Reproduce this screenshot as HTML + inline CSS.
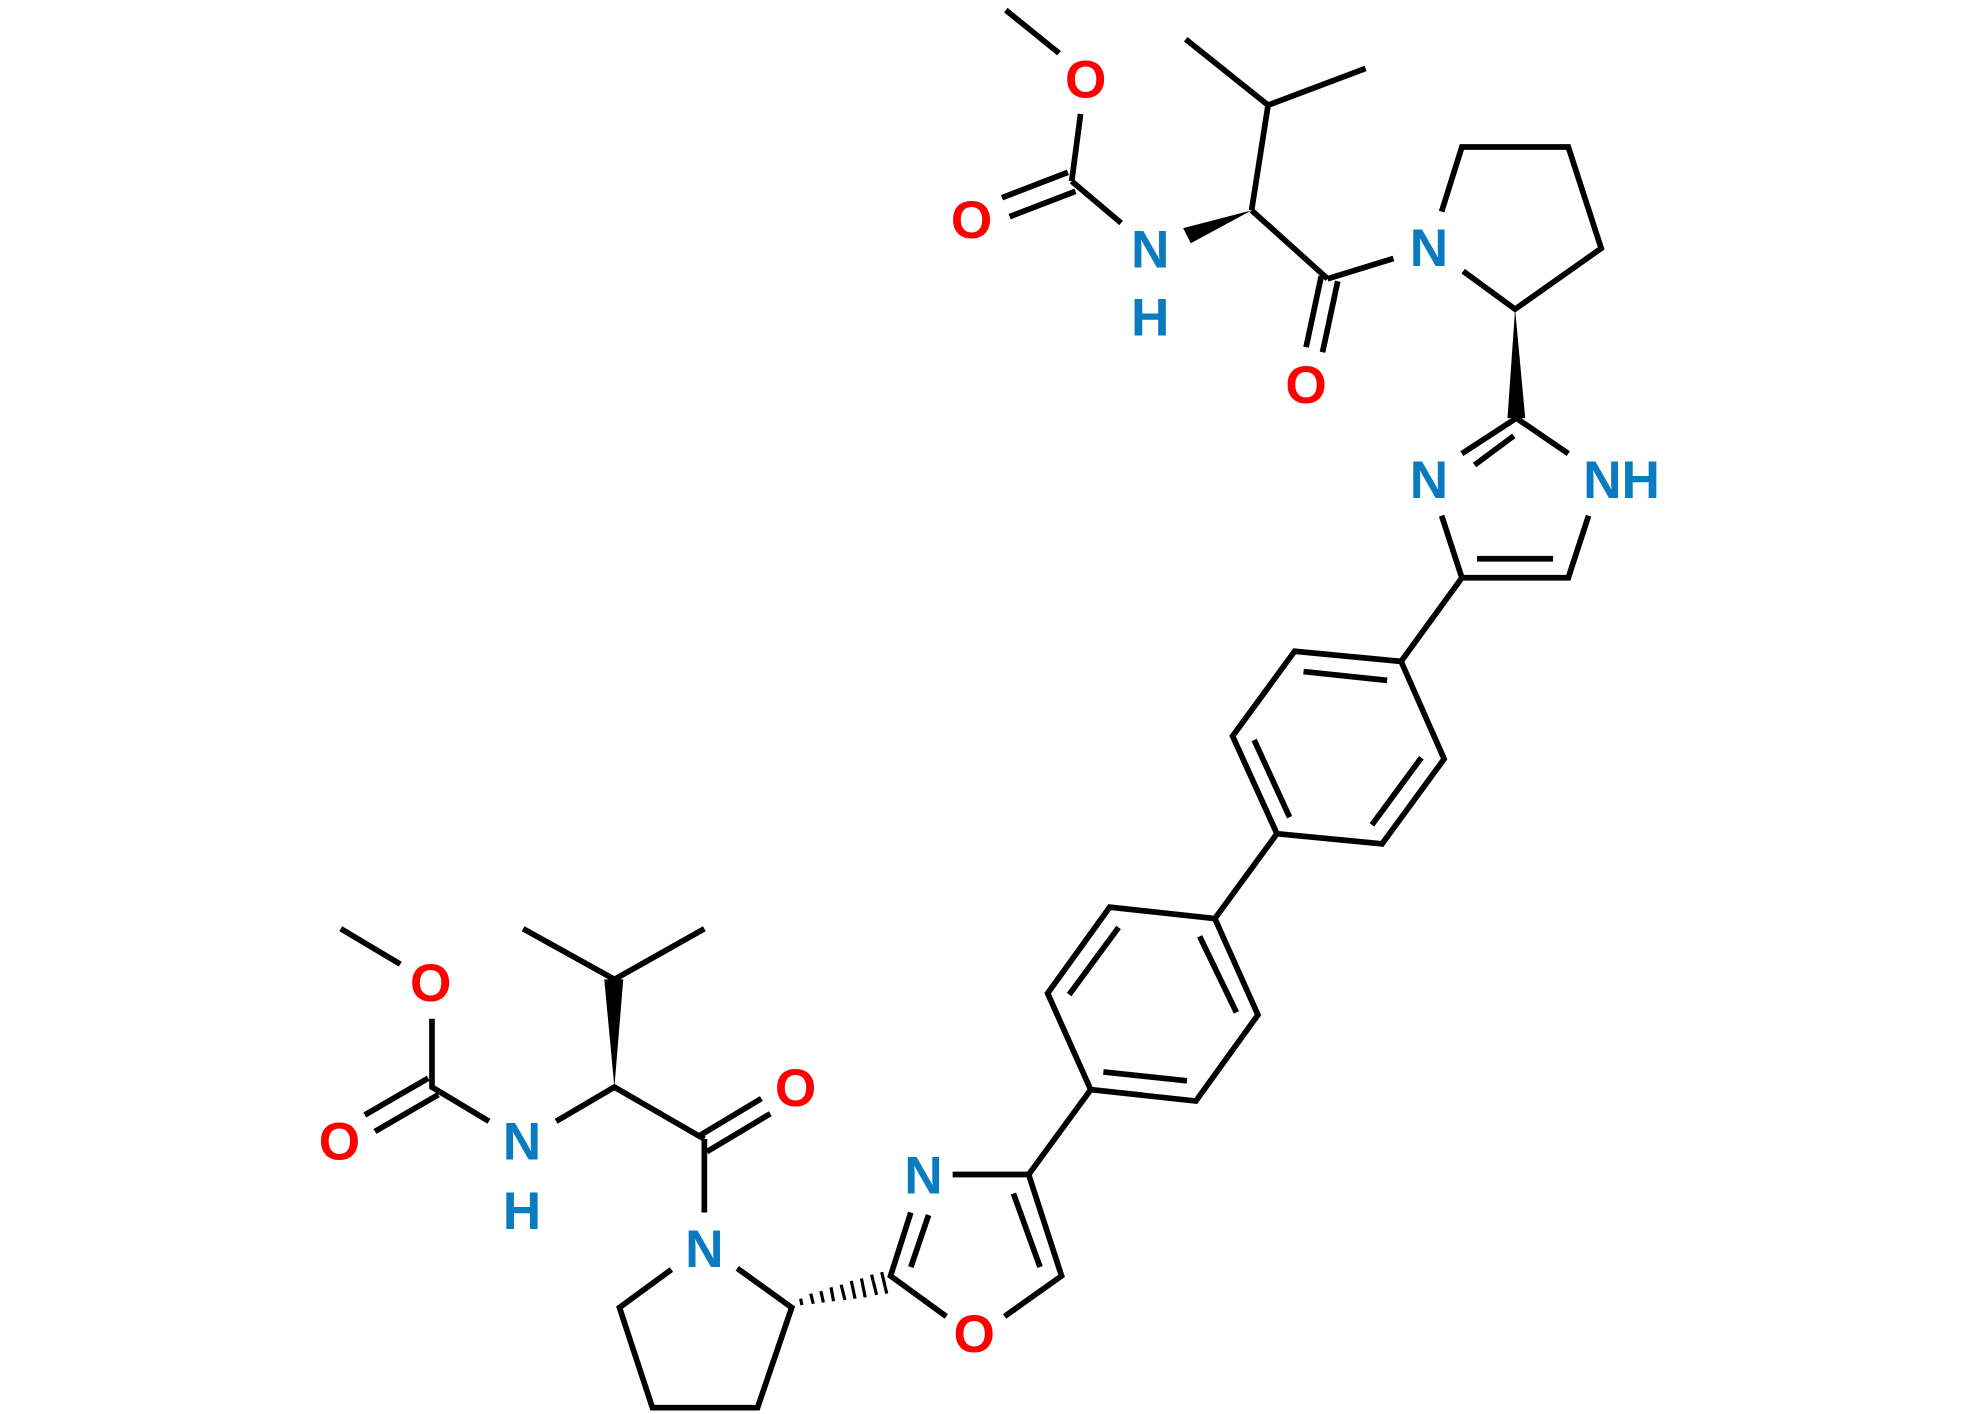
<!DOCTYPE html>
<html><head><style>html,body{margin:0;padding:0;background:#fff}svg{display:block}</style></head>
<body>
<svg width="1980" height="1414" viewBox="0 0 1563 1116" preserveAspectRatio="none" xmlns="http://www.w3.org/2000/svg">
<g transform="translate(-2,0)">
<g stroke="#000" stroke-width="4.5" fill="none" stroke-linecap="butt">
<path d="M796 8L838 42M855 90L848 143M793 156L845 136M799 171L851 151M848 143L887 176"/>
<path d="M990 166L1003 83L938 31M1003 83L1080 54M990 166L1050 220M1045 218L1033 274M1058 222L1046 278M1050 220L1102 204"/>
<path d="M1140 167L1156 116L1240 116L1266 196L1198 244L1157 214"/>
<path d="M1199 330L1156 358M1197 344L1166 367M1199 330L1240 358M1256 407L1240 456L1156 456L1140 407M1228 441L1168 441M1156 456L1108 522"/>
<path d="M1108 522L1024 514L975 581L1010 658L1093 666L1142 599ZM1031 530L1097 537M992 584L1020 645M1085 651L1124 598M1010 658L961 725"/>
<path d="M961 725L878 716L829 784L863 860L946 869L995 801ZM885 732L846 785M873 846L939 853M949 739L978 799M863 860L814 927"/>
<path d="M754 927L814 927L840 1007L795 1039M802 942L823 1000M749 1039L705 1007L721 957M721 1000L735 959"/>
<path d="M584 1001L627 1032L600 1111L517 1111L491 1032L532 1002M558 957L558 899M553 897L603 867M560 909L610 879M558 899L487 858L441 885"/>
<path d="M487 773L415 733M487 773L558 733M388 885L343 858L343 804M290 880L340 851M298 893L348 864M318 761L271 733"/>
</g>
<g fill="#000">
<polygon points="990,166 936,180 942,192"/>
<polygon points="1198,244 1192,330 1206,330"/>
<polygon points="487,858 479,773 494,773"/>
</g>
<g stroke="#000" stroke-width="2.5">
<path d="M634 1025L635 1030M642 1021L644 1029M650 1019L652 1028M658 1016L660 1027M666 1014L669 1026M674 1011L677 1025M682 1009L685 1024M690 1006L694 1022M698 1004L702 1021"/>
</g>
<g font-family="Liberation Sans, sans-serif" font-weight="bold" font-size="42" text-anchor="middle">
<g fill="#ff0000">
<text x="859" y="77">O</text><text x="769" y="188">O</text><text x="1033" y="318">O</text>
<text x="771" y="1067">O</text><text x="630" y="873">O</text><text x="270" y="915">O</text><text x="342" y="790">O</text>
</g>
<g fill="#0a7bc1">
<text x="910" y="211">N</text><text x="910" y="265">H</text><text x="1130" y="210">N</text>
<text x="1130" y="393">N</text><text x="1282" y="393">NH</text>
<text x="731" y="942">N</text><text x="558" y="1000">N</text><text x="414" y="915">N</text><text x="414" y="970">H</text>
</g>
</g>
</g>
</svg>
</body></html>
